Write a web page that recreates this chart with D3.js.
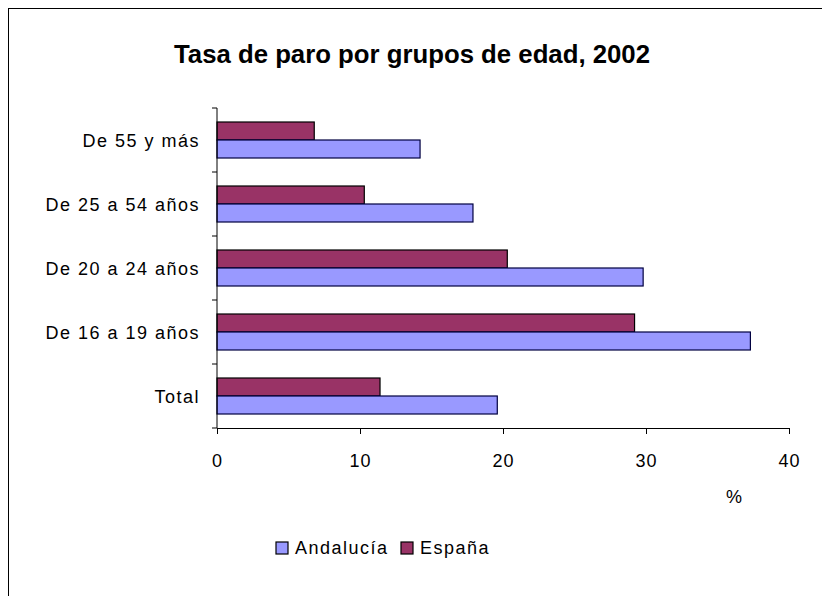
<!DOCTYPE html>
<html><head><meta charset="utf-8">
<script src="https://cdn.jsdelivr.net/npm/d3@7"></script>
<style>body{margin:0;background:#fff}svg{display:block}text{font-family:"Liberation Sans",Arial,sans-serif}</style>
</head><body><svg id="c" width="822" height="596"></svg>
<script>
const categories = ["De 55 y más","De 25 a 54 años","De 20 a 24 años","De 16 a 19 años","Total"];
const andalucia = [14.2, 17.9, 29.8, 37.3, 19.6];
const espana = [6.8, 10.3, 20.3, 29.2, 11.4];
const xTicks = [0,10,20,30,40];
const seriesNames = ["Andalucía","España"];
const colors = {"Andalucía":"#9999ff","España":"#993366"};

const svg = d3.select("#c");
svg.append("rect").attr("x",8.5).attr("y",8.5).attr("width",830).attr("height",600)
  .attr("fill","#fff").attr("stroke","#000").attr("stroke-width",1);

svg.append("text").attr("x",412).attr("y",63).attr("text-anchor","middle")
  .attr("font-size",26).attr("font-weight","bold").attr("textLength",476)
  .attr("lengthAdjust","spacingAndGlyphs")
  .text("Tasa de paro por grupos de edad, 2002");

const x = d3.scaleLinear().domain([0,40]).range([217,789]);
const y = d3.scaleBand().domain(categories).range([108,428]).paddingInner(0).paddingOuter(0);
const inner = d3.scaleBand().domain(["España","Andalucía"]).range([14,50]);

const rows = categories.map((c,i)=>({c, a:andalucia[i], e:espana[i]}));
const g = svg.append("g");
rows.forEach(r=>{
  [["España",r.e],["Andalucía",r.a]].forEach(([s,v])=>{
    g.append("rect")
      .attr("x",x(0)).attr("y",y(r.c)+inner(s))
      .attr("width",x(v)-x(0)).attr("height",inner.bandwidth())
      .attr("fill",colors[s]).attr("stroke",s==="Andalucía"?"#000040":"#000").attr("stroke-width",1.2);
  });
});

// x axis
const xa = svg.append("g").attr("transform","translate(0,428)")
  .call(d3.axisBottom(x).tickValues(xTicks).tickSize(6).tickSizeOuter(0));
xa.select(".domain").attr("stroke","#000");
xa.selectAll("text").attr("y",39).attr("dy",0).attr("font-size",18)
  .style("letter-spacing","1px").attr("fill","#000");

// y axis
const ya = svg.append("g").attr("transform","translate(217,0)");
ya.append("line").attr("x1",0).attr("x2",0).attr("y1",108).attr("y2",428).attr("stroke","#000");
const edges = categories.map(c=>y(c)).concat([y.range()[1]]);
ya.selectAll("line.t").data(edges).enter().append("line").attr("class","t")
  .attr("x1",-5).attr("x2",0).attr("y1",d=>d).attr("y2",d=>d).attr("stroke","#000");
ya.selectAll("text").data(categories).enter().append("text")
  .attr("x",-17).attr("y",d=>y(d)+y.bandwidth()/2+7).attr("text-anchor","end")
  .attr("font-size",18).style("letter-spacing","1.5px").text(d=>d);

svg.append("text").attr("x",734).attr("y",503).attr("text-anchor","middle").attr("font-size",18).text("%");

// legend
const leg = svg.append("g");
const lx = [276, 401];
seriesNames.forEach((s,i)=>{
  leg.append("rect").attr("x",lx[i]).attr("y",542).attr("width",12).attr("height",12)
    .attr("fill",colors[s]).attr("stroke","#000").attr("stroke-width",1.2);
  leg.append("text").attr("x",lx[i]+19).attr("y",554).attr("font-size",18)
    .style("letter-spacing","1.5px").text(s);
});
</script></body></html>
